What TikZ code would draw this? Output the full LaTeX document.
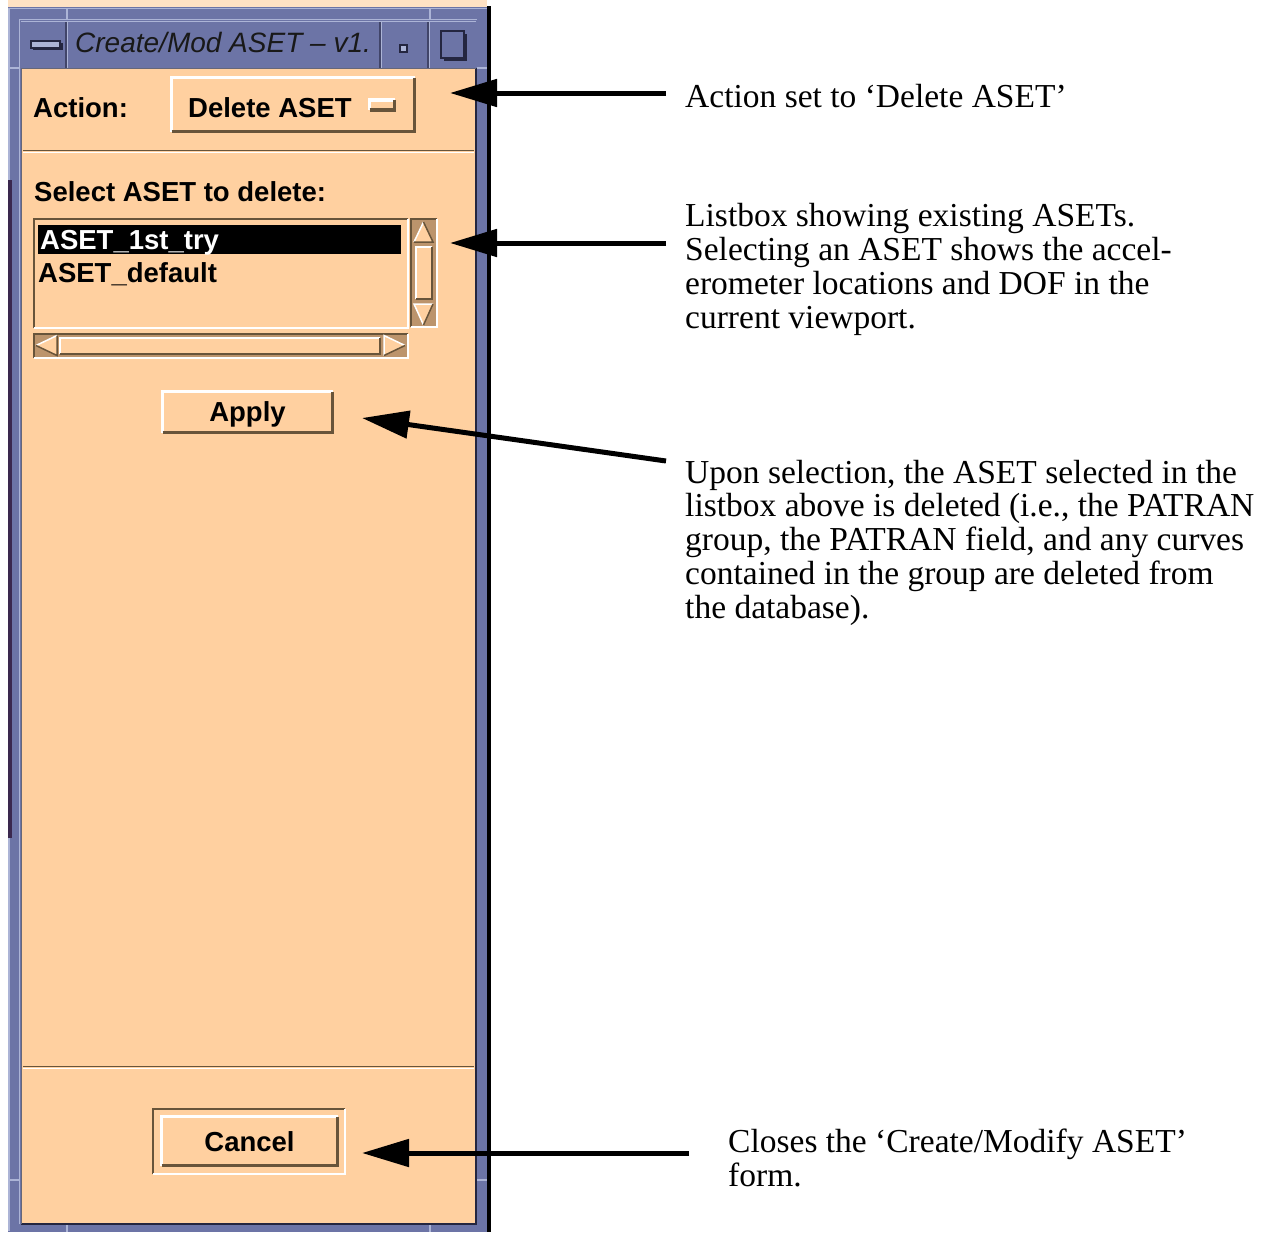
\documentclass[tikz,border=0pt]{standalone}
\usepackage{fontspec}
\setmainfont{Liberation Serif}
\newfontfamily\guifont{Liberation Sans}
\usetikzlibrary{arrows.meta}

\definecolor{peach}{RGB}{255,208,160}
\definecolor{peachlite}{RGB}{255,226,196}
\definecolor{wmframe}{RGB}{108,116,166}
\definecolor{wmlight}{RGB}{172,180,214}
\definecolor{wmdark}{RGB}{36,38,64}
\definecolor{bevdark}{RGB}{104,84,58}
\definecolor{trough}{RGB}{188,148,108}
\definecolor{edgedark}{RGB}{58,40,78}

\tikzset{
  % notes are placed by the baseline of their last line
  note/.style={anchor=base west, inner sep=0pt, align=left,
               font=\fontsize{33.5}{33.7}\selectfont},
  guitext/.style={anchor=base west, inner sep=0pt,
               font=\guifont\bfseries\fontsize{27.5}{30}\selectfont},
  callout/.style={line width=5pt, -{Triangle[length=47pt,width=27pt]}},
  widget/.style={fill=peach, draw=none, inner sep=0pt, outer sep=0pt},
  well/.style={fill=trough, draw=none, inner sep=0pt, outer sep=0pt},
  hl/.style={white, line width=#1},
  hl/.default=3pt,
  sh/.style={bevdark, line width=#1},
  sh/.default=3pt,
  wmline/.style={wmdark, line width=2pt},
}

% raised and sunken bevels drawn on a node's border
\newcommand\raisedbev[2][3pt]{%
  \draw[hl=#1] (#2.south west) |- (#2.north east);
  \draw[sh=#1] (#2.south west) -| (#2.north east);}
\newcommand\sunkenbev[2][2pt]{%
  \draw[sh=#1] (#2.south west) |- (#2.north east);
  \draw[hl=#1] (#2.south west) -| (#2.north east);}

\begin{document}
\begin{tikzpicture}[x=1pt, y=-1pt]
\useasboundingbox (0,0) rectangle (1265,1234);
\fill[white] (0,0) rectangle (1265,1234);

% ---------- window frame ----------
\fill[peachlite] (8,0) rectangle (487,7);
\fill[wmframe] (8,7) rectangle (490,1232);
\draw[wmlight, line width=1.5pt] (9,1231) |- (488,8.5);
\draw[wmlight, line width=1.5pt] (19.5,1224) |- (477,19.5);
\fill[black] (487,6) rectangle (491,1232);
\fill[edgedark] (8,180) rectangle (11.5,838);
% resize handle notches
\foreach \x in {67,430} {
  \draw[wmlight, line width=1.5pt] (\x,8) -- (\x,20);
  \draw[wmlight, line width=1.5pt] (\x,1224) -- (\x,1232);
}
\foreach \y in {68,1180} {
  \draw[wmlight, line width=1.5pt] (8,\y) -- (20,\y);
  \draw[wmlight, line width=1.5pt] (477,\y) -- (487,\y);
}

% ---------- title bar ----------
\fill[wmframe] (21,21) rectangle (476,68);
\foreach \x in {67,381,429} {
  \draw[wmdark!60!wmframe, line width=1.5pt] (\x-1,21) -- (\x-1,68);
  \draw[wmlight, line width=1.5pt] (\x+0.5,21) -- (\x+0.5,68);
}
\draw[wmlight, line width=1pt] (21,21.5) -- (476,21.5);
\fill[wmdark] (33,43) rectangle (63,50);
\draw[wmline, fill=wmlight] (31,41) rectangle (60,47.5);
\node[anchor=base west, inner sep=0pt, text=black!90,
      font=\guifont\itshape\fontsize{28}{30}\selectfont] (title) at (75,52)
      {Create/Mod ASET – v1.};
\draw[wmline, fill=wmlight] (400,45) rectangle (407,52);
\fill[wmdark] (444,34) rectangle (467,61);
\draw[wmdark, line width=2.5pt, fill=wmframe] (441,31) rectangle (464,58);

% ---------- form body ----------
\fill[peach] (21,68) rectangle (476,1224);
\draw[wmdark, line width=1.5pt] (21,1224) -| (476,68);
\draw[wmdark!70, line width=1pt] (21,1224) -- (21,68) -- (476,68);

% action row
\node[guitext] (actlbl) at (33,117) {Action:};
\node[widget, minimum width=243pt, minimum height=54pt] (delbtn) at (293,104.5) {};
\raisedbev{delbtn}
\node[guitext] (deltxt) at (188,117) {Delete ASET};
\node[widget, minimum width=25pt, minimum height=10pt] (menuicon) at (382,105) {};
\raisedbev[3.5pt]{menuicon}

% separator
\draw[bevdark, line width=1.5pt] (23,150.5) -- (474,150.5);
\draw[white, line width=1.5pt] (23,152.5) -- (474,152.5);

% list box
\node[guitext] (sellbl) at (34,201) {Select ASET to delete:};
\node[widget, minimum width=374pt, minimum height=109pt] (lbox) at (220.5,273) {};
\sunkenbev{lbox}
\fill[black] (38,225) rectangle (401,254);
\node[guitext, text=white] (item1) at (40,249) {ASET\_1st\_try};
\node[guitext] (item2) at (38,282) {ASET\_default};

% vertical scroll bar
\node[well, minimum width=26pt, minimum height=108pt] (vsb) at (423.5,273) {};
\sunkenbev{vsb}
\fill[peach] (414,242) -- (433,242) -- (423.5,222) -- cycle;
\draw[hl=1.5pt] (414,242) -- (423.5,222);
\draw[sh=1.5pt] (423.5,222) -- (433,242) -- (414,242);
\node[widget, minimum width=16pt, minimum height=52pt] (vslide) at (424,273) {};
\raisedbev[2pt]{vslide}
\fill[peach] (414,304) -- (433,304) -- (423.5,325) -- cycle;
\draw[hl=1.5pt] (423.5,325) -- (414,304) -- (433,304);
\draw[sh=1.5pt] (433,304) -- (423.5,325);

% horizontal scroll bar
\node[well, minimum width=374pt, minimum height=24pt] (hsb) at (220.5,345.5) {};
\sunkenbev{hsb}
\fill[peach] (57,335.5) -- (57,355.5) -- (36,345.5) -- cycle;
\draw[hl=1.5pt] (57,335.5) -- (36,345.5);
\draw[sh=1.5pt] (36,345.5) -- (57,355.5) -- (57,335.5);
\node[widget, minimum width=320pt, minimum height=16pt] (hslide) at (220,345.5) {};
\raisedbev[2pt]{hslide}
\fill[peach] (384,335.5) -- (384,355.5) -- (405,345.5) -- cycle;
\draw[hl=1.5pt] (384,355.5) -- (384,335.5) -- (405,345.5);
\draw[sh=1.5pt] (405,345.5) -- (384,355.5);

% apply button
\node[widget, minimum width=170pt, minimum height=41pt] (applybtn) at (247.5,412) {};
\raisedbev{applybtn}
\node[guitext, anchor=base] (applytxt) at (247.5,421) {Apply};

% lower separator
\draw[bevdark, line width=1.5pt] (23,1066.5) -- (474,1066.5);
\draw[white, line width=1.5pt] (23,1068.5) -- (474,1068.5);

% cancel button with default ring
\node[widget, minimum width=192pt, minimum height=65pt] (cancelring) at (249,1141.5) {};
\sunkenbev[1.5pt]{cancelring}
\node[widget, minimum width=176pt, minimum height=49pt] (cancelbtn) at (249.5,1141) {};
\raisedbev{cancelbtn}
\node[guitext, anchor=base] (canceltxt) at (249.5,1151) {Cancel};

% ---------- explanatory notes ----------
\node[note] (n1) at (685,107) {Action set to ‘Delete ASET’};
\node[note] (n2) at (685,328) {Listbox showing existing ASETs.\\
  Selecting an ASET shows the accel-\\
  erometer locations and DOF in the\\
  current viewport.};
\node[note] (n3) at (685,618) {Upon selection, the ASET selected in the\\
  listbox above is deleted (i.e., the PATRAN\\
  group, the PATRAN field, and any curves\\
  contained in the group are deleted from\\
  the database).};
\node[note] (n4) at (728,1186) {Closes the ‘Create/Modify ASET’\\form.};

% ---------- callout arrows ----------
\coordinate (s1) at (666,93);   \coordinate (e1) at (450,93);
\coordinate (s2) at (666,243);  \coordinate (e2) at (450,243);
\coordinate (s3) at (666,461);  \coordinate (e3) at (362,418);
\coordinate (s4) at (689,1153); \coordinate (e4) at (362,1153);
\draw[callout] (s1) -- (e1);
\draw[callout] (s2) -- (e2);
\draw[callout] (s3) -- (e3);
\draw[callout] (s4) -- (e4);
\end{tikzpicture}
\end{document}
